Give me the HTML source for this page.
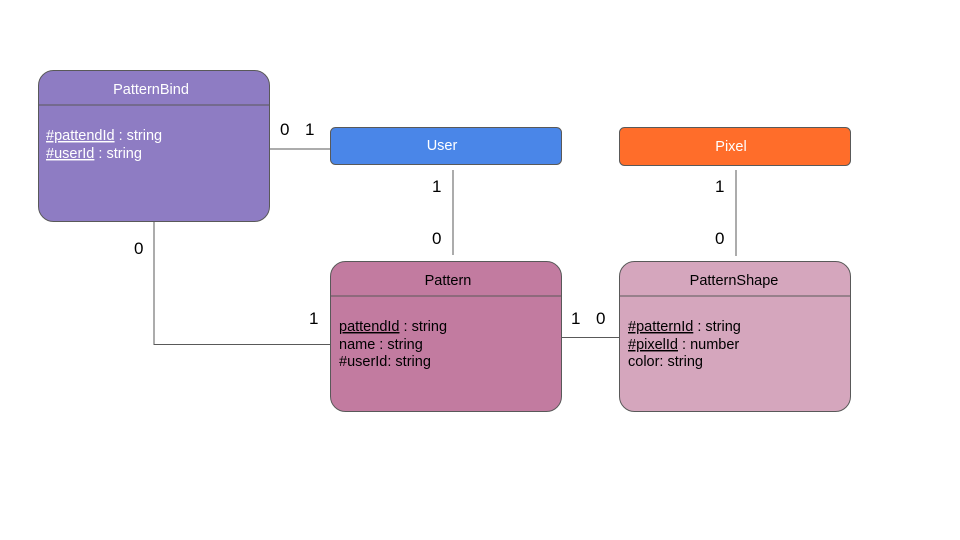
<!DOCTYPE html>
<html><head><meta charset="utf-8"><style>
html,body{margin:0;padding:0;background:#fff}
svg{display:block}
text{font-family:"Liberation Sans",Arial,sans-serif}
</style></head><body>
<svg width="960" height="540" viewBox="0 0 960 540" xmlns="http://www.w3.org/2000/svg">
<rect width="960" height="540" fill="#fff"/>
<g stroke="#595959" stroke-width="1" fill="none">
<line x1="270" y1="149" x2="330" y2="149"/>
<line x1="453" y1="170" x2="453" y2="255"/>
<line x1="154" y1="222" x2="154" y2="345"/>
<line x1="154" y1="344.5" x2="330" y2="344.5"/>
<line x1="562" y1="337.5" x2="619" y2="337.5"/>
<line x1="736" y1="170" x2="736" y2="256"/>
</g>
<rect x="38.5" y="70.5" width="231" height="151" rx="15" fill="#8e7cc3" stroke="#595959"/>
<line x1="38" y1="105" x2="270" y2="105" stroke="#595959"/>
<text x="151" y="94" font-size="14.5" fill="#fff" text-anchor="middle">PatternBind</text>
<text x="46" y="140" font-size="14.5" fill="#fff"><tspan text-decoration="underline">#pattendId</tspan> : string</text>
<text x="46" y="158" font-size="14.5" fill="#fff"><tspan text-decoration="underline">#userId</tspan> : string</text>
<rect x="330.5" y="127.5" width="231" height="37" rx="5" fill="#4a86e8" stroke="#595959"/>
<text x="442" y="150" font-size="14.5" fill="#fff" text-anchor="middle">User</text>
<rect x="619.5" y="127.5" width="231" height="38" rx="5" fill="#ff6d2a" stroke="#595959"/>
<text x="731" y="151" font-size="14.5" fill="#fff" text-anchor="middle">Pixel</text>
<rect x="330.5" y="261.5" width="231" height="150" rx="15" fill="#c27ba0" stroke="#595959"/>
<line x1="330" y1="296" x2="562" y2="296" stroke="#595959"/>
<text x="448" y="285" font-size="14.5" fill="#000" text-anchor="middle">Pattern</text>
<text x="339" y="331" font-size="14.5" fill="#000"><tspan text-decoration="underline">pattendId</tspan> : string</text>
<text x="339" y="349" font-size="14.5" fill="#000">name : string</text>
<text x="339" y="366" font-size="14.5" fill="#000">#userId: string</text>
<rect x="619.5" y="261.5" width="231" height="150" rx="15" fill="#d5a6bd" stroke="#595959"/>
<line x1="619" y1="296" x2="851" y2="296" stroke="#595959"/>
<text x="734" y="285" font-size="14.5" fill="#000" text-anchor="middle">PatternShape</text>
<text x="628" y="331" font-size="14.5" fill="#000"><tspan text-decoration="underline">#patternId</tspan> : string</text>
<text x="628" y="349" font-size="14.5" fill="#000"><tspan text-decoration="underline">#pixelId</tspan> : number</text>
<text x="628" y="366" font-size="14.5" fill="#000">color: string</text>
<g font-size="17" fill="#000">
<text x="280" y="135">0</text>
<text x="305" y="135">1</text>
<text x="432" y="192">1</text>
<text x="432" y="244">0</text>
<text x="134" y="254">0</text>
<text x="309" y="324">1</text>
<text x="571" y="324">1</text>
<text x="596" y="324">0</text>
<text x="715" y="192">1</text>
<text x="715" y="244">0</text>
</g>
</svg>
</body></html>
